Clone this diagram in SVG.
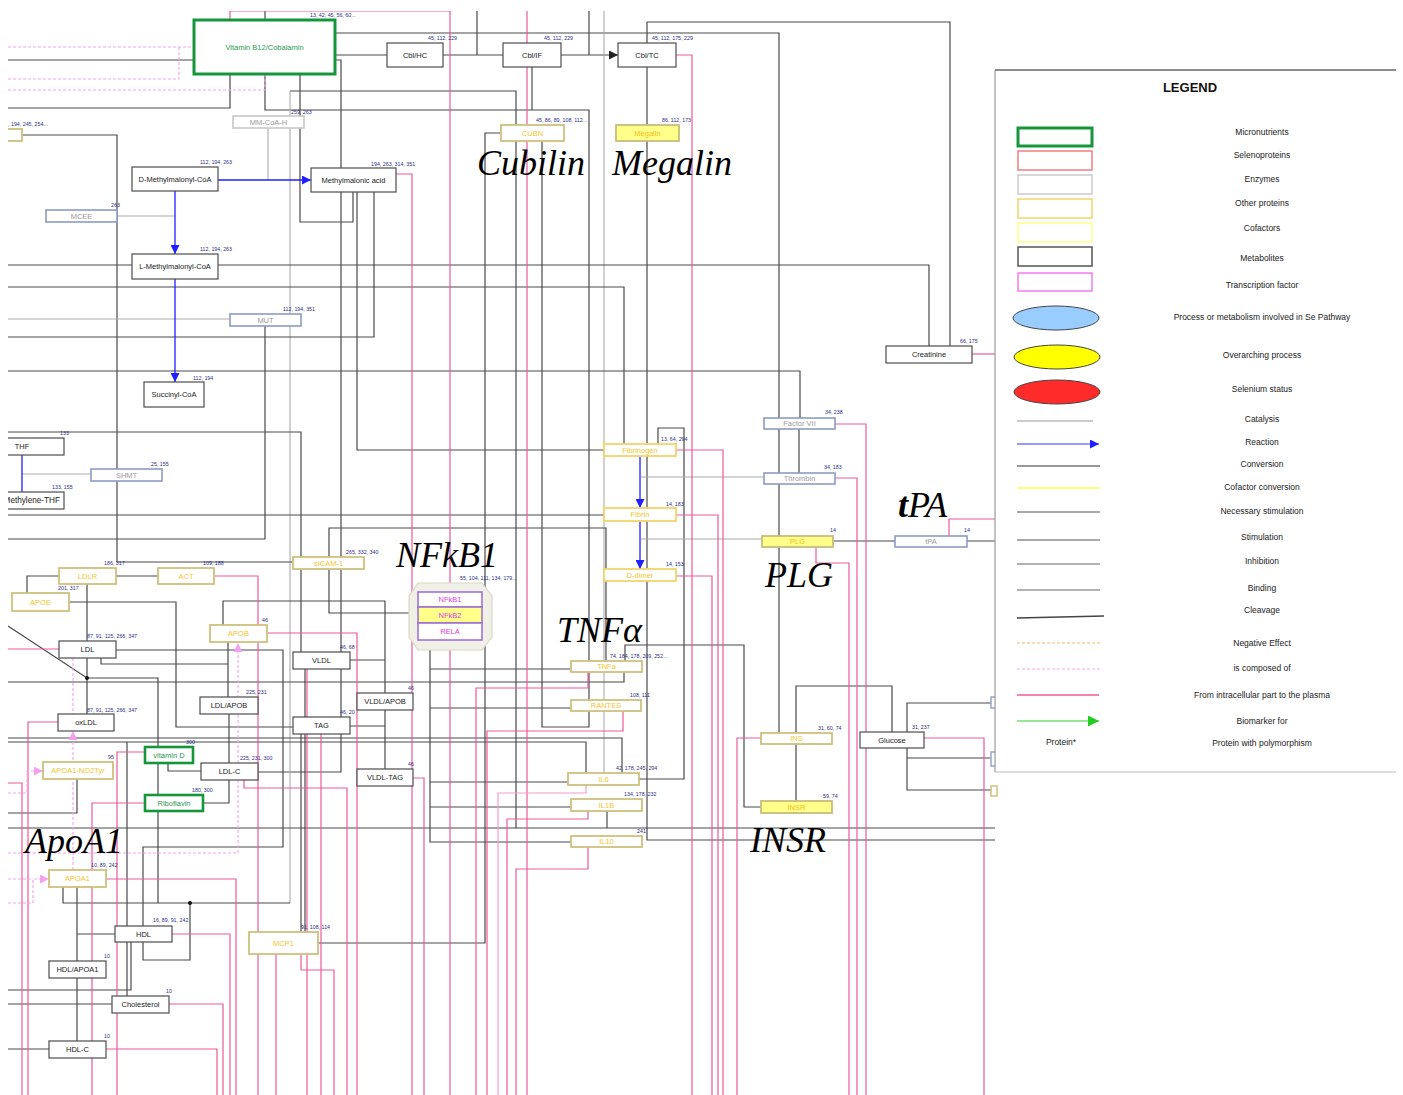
<svg xmlns="http://www.w3.org/2000/svg" width="1403" height="1095" viewBox="0 0 1403 1095">
<style>
.k{fill:none;stroke:#4a4a4a;stroke-width:1.2}
.g{fill:none;stroke:#ababab;stroke-width:1.1}
.p{fill:none;stroke:#ec5a9c;stroke-width:1.2}
.pl{fill:none;stroke:#f49cc6;stroke-width:1.2}
.pd{fill:none;stroke:#f3a2ee;stroke-width:1.1;stroke-dasharray:3 2}
.bl{fill:none;stroke:#1f1fff;stroke-width:1.3}
.t{font-family:"Liberation Sans",Arial,sans-serif;font-size:7.5px;text-anchor:middle}
.r{font-family:"Liberation Sans",Arial,sans-serif;font-size:5.3px;fill:#2e2e8a !important}
.big{font-family:"Liberation Serif","Times New Roman",serif;font-style:italic;font-size:36px;fill:#000}
.met rect{fill:#fff;stroke:#4d4d4d;stroke-width:1.2}
.met text{fill:#222}
.enz rect{fill:#fff;stroke:#8d9cc6;stroke-width:1.6}
.enz text{fill:#9a9a9a}
.oth rect{fill:#fff;stroke:#cfc07f;stroke-width:1.8}
.oth text{fill:#f5c52c}
.cof rect{fill:#ffff8a;stroke:#c9bc7e;stroke-width:1.8}
.cof text{fill:#f0c020}
.mic rect{fill:#fff;stroke:#16963a;stroke-width:3}
.mic text{fill:#2a9a50}
.tf rect{fill:#fff;stroke:#9b6bd3;stroke-width:1.5}
.tf text{fill:#e23be2}
.lg{font-family:"Liberation Sans",Arial,sans-serif;font-size:8.5px;text-anchor:middle;fill:#222}
</style>
<defs>
<clipPath id="clip"><rect x="8" y="11" width="1395" height="1084"/></clipPath>
<marker id="ab" viewBox="0 0 10 10" refX="10" refY="5" markerWidth="9" markerHeight="9" markerUnits="userSpaceOnUse" orient="auto"><path d="M0,0L10,5L0,10z" fill="#1f1fff"/></marker>
<marker id="ak" viewBox="0 0 10 10" refX="10" refY="5" markerWidth="9" markerHeight="9" markerUnits="userSpaceOnUse" orient="auto"><path d="M0,0L10,5L0,10z" fill="#222"/></marker>
<marker id="ap" viewBox="0 0 10 10" refX="10" refY="5" markerWidth="9" markerHeight="9" markerUnits="userSpaceOnUse" orient="auto"><path d="M0,0L10,5L0,10z" fill="#f3a2ee"/></marker>
<marker id="ag" viewBox="0 0 10 10" refX="10" refY="5" markerWidth="11" markerHeight="11" markerUnits="userSpaceOnUse" orient="auto"><path d="M0,0L10,5L0,10z" fill="#22cc22"/></marker>
</defs>
<rect width="1403" height="1095" fill="#fff"/>
<g clip-path="url(#clip)">
<g id="connectors">
<path class="k" d="M336,60H341V772H258"/>
<path class="k" d="M336,55H387M443,55H503"/>
<path class="k" d="M561,55H618" marker-end="url(#ak)"/>
<path class="k" d="M477,11V55M589,11V55"/>
<path class="k" d="M336,33H779V733"/>
<path class="k" d="M647,22H950V346M647,22V43M647,67V125M647,141V840H995"/>
<path class="k" d="M265,11V20M265,74V110H589V727H542V141"/>
<path class="k" d="M532,67V110"/>
<path class="k" d="M300,74V222H353V192"/>
<path class="k" d="M290,91H516V828"/>
<path class="g" d="M290,91V903"/>
<path class="k" d="M230,74V108H8M194,60H8"/>
<path class="g" d="M604,11V773"/>
<path class="k" d="M22,135H117V562H293"/>
<path class="k" d="M8,265H929V346"/>
<path class="k" d="M8,287H624V444"/>
<path class="g" d="M8,319H230"/>
<path class="k" d="M374,192V337H8"/>
<path class="k" d="M265,325V539H8"/>
<path class="k" d="M8,371H800V418"/>
<path class="k" d="M8,432H301V652"/>
<path class="k" d="M357,192V450H604"/>
<path class="k" d="M8,515H604"/>
<path class="k" d="M501,133H485V943H318"/>
<path class="k" d="M409,613H329V528H606V661"/>
<path class="k" d="M223,625V601H385V693M350,660H385M350,726H385"/>
<path class="k" d="M59,576H27V593M116,576H158"/>
<path class="k" d="M87,584V641M87,658V714"/>
<path class="k" d="M8,626L87,678H158V747M158,763V795M158,811V903"/>
<path class="k" d="M8,682H624V672M625,661V645H744V807H761"/>
<path class="k" d="M69,602H176V727H293"/>
<path class="k" d="M116,650H283V847H143V960H190V903"/>
<path class="k" d="M101,658V664H228M228,642V697"/>
<path class="k" d="M229,714V763M168,763V771H201M203,803H229V780"/>
<path class="k" d="M8,738H622V773M8,742H586V773"/>
<path class="k" d="M430,650V842H571M430,669H571M430,708H571M430,782H568M430,807H571"/>
<path class="k" d="M658,444V428H684V779H639"/>
<path class="k" d="M385,710V769"/>
<path class="k" d="M8,828H995M607,811V828"/>
<path class="k" d="M799,429V473"/>
<path class="k" d="M833,541H895M967,541H995"/>
<path class="k" d="M796,744V801M796,733V686H892V732"/>
<path class="k" d="M907,732V703H995M907,748V790H995M907,758H995"/>
<path class="k" d="M77,779V813H8"/>
<path class="k" d="M77,887V961M77,978V1041M77,934H115"/>
<path class="k" d="M63,887V903H290"/>
<path class="k" d="M127,742V926M127,942V996M131,942V990H8"/>
<path class="k" d="M112,1004H8M49,1049H8"/>
<path class="k" d="M301,734V932M305,734V932M305,669V717"/>
<circle cx="87" cy="678" r="2" fill="#111"/>
<circle cx="190" cy="903" r="2" fill="#111"/>
<path class="g" d="M268,128V180M117,216H175M22,474H91M641,477H764M641,539H762"/>
<path class="bl" d="M218,180H311" marker-end="url(#ab)"/>
<path class="bl" d="M175,191V254" marker-end="url(#ab)"/>
<path class="bl" d="M175,279V382" marker-end="url(#ab)"/>
<path class="bl" d="M640,456V508" marker-end="url(#ab)"/>
<path class="bl" d="M640,521V569" marker-end="url(#ab)"/>
<path class="bl" d="M22,455V492"/>
<path class="p" d="M230,20V11H450V1095"/>
<path class="p" d="M527,11V1095"/>
<path class="p" d="M676,55H692V1095"/>
<path class="p" d="M396,174H412V1095"/>
<path class="p" d="M214,576H258V1095"/>
<path class="p" d="M267,633H357V1095"/>
<path class="p" d="M8,649H59"/>
<path class="p" d="M58,722H28V1095"/>
<path class="p" d="M307,669V1095"/>
<path class="p" d="M321,734V1095"/>
<path class="p" d="M676,450H723V1095"/>
<path class="p" d="M676,515H718V1095"/>
<path class="p" d="M676,576H712V1095"/>
<path class="p" d="M588,672V688H476V1095"/>
<path class="p" d="M623,711V731H487V1095"/>
<path class="pl" d="M586,785V793H498V1095"/>
<path class="p" d="M588,811V819H507V1095"/>
<path class="p" d="M588,847V869H516V1095"/>
<path class="p" d="M413,778H424V1095"/>
<path class="p" d="M835,424H866V1095"/>
<path class="p" d="M835,478H857V1095"/>
<path class="p" d="M816,547V563H849V1095"/>
<path class="p" d="M949,536V519H995"/>
<path class="p" d="M761,738H737V1095"/>
<path class="p" d="M924,738H984V1095"/>
<path class="p" d="M972,354H995"/>
<path class="p" d="M145,752H117V1095"/>
<path class="p" d="M145,803H92V1095"/>
<path class="p" d="M244,780V788H347V1095"/>
<path class="p" d="M8,783H22V1095"/>
<path class="p" d="M106,879H236V1095"/>
<path class="p" d="M172,934H230V1095"/>
<path class="p" d="M169,1004H223V1095"/>
<path class="p" d="M106,1049H217V1095"/>
<path class="p" d="M276,954V1095"/>
<path class="p" d="M301,954V970H334V1095"/>
<path class="pd" d="M8,47H194M8,79H179V47M8,90H265V74"/>
<path class="pd" d="M73,658V714"/>
<path class="pd" d="M73,870V731" marker-end="url(#ap)"/>
<path class="pd" d="M8,853H238V643" marker-end="url(#ap)"/>
<path class="pd" d="M8,793H27V771H43" marker-end="url(#ap)"/>
<path class="pd" d="M8,903H33V879H49" marker-end="url(#ap)"/>
<path class="pd" d="M8,879H33"/>
</g>

<g id="n-b12" class="mic"><rect x="194" y="20" width="141" height="54"/><text class="t" x="264.5" y="49.7">Vitamin B12/Cobalamin</text><text class="r" x="310" y="17">13, 42, 45, 56, 60...</text></g>
<g id="n-cblhc" class="met"><rect x="387" y="43" width="56" height="24"/><text class="t" x="415" y="57.7">Cbl/HC</text><text class="r" x="428" y="40">45, 112, 229</text></g>
<g id="n-cblif" class="met"><rect x="503" y="43" width="58" height="24"/><text class="t" x="532" y="57.7">Cbl/IF</text><text class="r" x="544" y="40">45, 112, 229</text></g>
<g id="n-cbltc" class="met"><rect x="618" y="43" width="58" height="24"/><text class="t" x="647" y="57.7">Cbl/TC</text><text class="r" x="652" y="40">45, 112, 175, 229</text></g>
<g id="n-cubn" class="oth"><rect x="501" y="125" width="63" height="16"/><text class="t" x="532.5" y="135.7">CUBN</text><text class="r" x="536" y="122">45, 86, 89, 108, 112...</text></g>
<g id="n-megalin" class="cof"><rect x="616" y="125" width="63" height="16"/><text class="t" x="647.5" y="135.7">Megalin</text><text class="r" x="662" y="122">86, 112, 173</text></g>
<g id="n-mmcoah" class="enz"><rect x="233" y="116" width="71" height="12" style="stroke:#c8c8c8"/><text class="t" x="268.5" y="124.7">MM-CoA-H</text><text class="r" x="291" y="114">259, 263</text></g>
<g id="n-dmm" class="met"><rect x="132" y="167" width="86" height="24"/><text class="t" x="175" y="181.7">D-Methylmalonyl-CoA</text><text class="r" x="200" y="164">112, 194, 263</text></g>
<g id="n-mma" class="met"><rect x="311" y="168" width="85" height="24"/><text class="t" x="353.5" y="182.7">Methylmalonic acid</text><text class="r" x="371" y="166">194, 263, 314, 351</text></g>
<g id="n-mcee" class="enz"><rect x="46" y="210" width="71" height="12"/><text class="t" x="81.5" y="218.7">MCEE</text><text class="r" x="111" y="207">263</text></g>
<g id="n-lmm" class="met"><rect x="132" y="254" width="86" height="25"/><text class="t" x="175" y="269.2">L-Methylmalonyl-CoA</text><text class="r" x="200" y="251">112, 194, 263</text></g>
<g id="n-mut" class="enz"><rect x="230" y="314" width="71" height="12"/><text class="t" x="265.5" y="322.7">MUT</text><text class="r" x="283" y="311">112, 194, 351</text></g>
<g id="n-succoa" class="met"><rect x="144" y="382" width="60" height="25"/><text class="t" x="174" y="397.2">Succinyl-CoA</text><text class="r" x="193" y="380">112, 194</text></g>
<g id="n-thf" class="met"><rect x="-20" y="438" width="84" height="17"/><text class="t" x="22" y="449.2">THF</text><text class="r" x="60" y="435">133</text></g>
<g id="n-shmt" class="enz"><rect x="91" y="469" width="71" height="12"/><text class="t" x="126.5" y="477.7">SHMT</text><text class="r" x="151" y="466">25, 155</text></g>
<g id="n-mthf" class="met"><rect x="-20" y="492" width="84" height="17"/><text class="t" x="60" y="503.4" style="text-anchor:end;font-size:8.2px">Methylene-THF</text><text class="r" x="52" y="489">133, 155</text></g>
<g id="n-left" class="oth"><rect x="-20" y="129" width="42" height="12"/><text class="r" x="8" y="126">, 194, 245, 254...</text></g>
<g id="n-sicam" class="oth"><rect x="293" y="557" width="71" height="12"/><text class="t" x="328.5" y="565.7">sICAM-1</text><text class="r" x="346" y="554">265, 332, 340</text></g>
<g id="n-ldlr" class="oth"><rect x="59" y="568" width="57" height="16"/><text class="t" x="87.5" y="578.7">LDLR</text><text class="r" x="104" y="565">186, 317</text></g>
<g id="n-act" class="oth"><rect x="158" y="568" width="56" height="16"/><text class="t" x="186" y="578.7">ACT</text><text class="r" x="203" y="565">109, 188</text></g>
<g id="n-apoe" class="oth"><rect x="12" y="593" width="57" height="18"/><text class="t" x="40.5" y="604.7">APOE</text><text class="r" x="58" y="590">201, 317</text></g>
<g id="n-apob" class="oth"><rect x="210" y="625" width="57" height="17"/><text class="t" x="238.5" y="636.2">APOB</text><text class="r" x="262" y="622">46</text></g>
<g id="n-ldl" class="met"><rect x="59" y="641" width="57" height="17"/><text class="t" x="87.5" y="652.2">LDL</text><text class="r" x="87" y="638">87, 91, 125, 266, 347</text></g>
<g id="n-ldlapob" class="met"><rect x="200" y="697" width="58" height="17"/><text class="t" x="229" y="708.2">LDL/APOB</text><text class="r" x="246" y="694">225, 231</text></g>
<g id="n-oxldl" class="met"><rect x="58" y="714" width="56" height="17"/><text class="t" x="86" y="725.2">oxLDL</text><text class="r" x="87" y="712">87, 91, 125, 266, 347</text></g>
<g id="n-vldl" class="met"><rect x="293" y="652" width="57" height="17"/><text class="t" x="321.5" y="663.2">VLDL</text><text class="r" x="340" y="649">46, 68</text></g>
<g id="n-tag" class="met"><rect x="293" y="717" width="57" height="17"/><text class="t" x="321.5" y="728.2">TAG</text><text class="r" x="340" y="714">46, 20</text></g>
<g id="n-vldlapob" class="met"><rect x="357" y="693" width="56" height="17"/><text class="t" x="385" y="704.2">VLDL/APOB</text><text class="r" x="408" y="690">46</text></g>
<g id="n-vldltag" class="met"><rect x="357" y="769" width="56" height="17"/><text class="t" x="385" y="780.2">VLDL-TAG</text><text class="r" x="408" y="766">46</text></g>
<g id="n-nfkb" class="tf"><polygon points="418,583 482,583 492,596 492,637 482,650 418,650 409,637 409,596" fill="#f0f0e6" stroke="#d8d8cc" stroke-width="1.2"/><rect x="418" y="592" width="64" height="15"/><text class="t" x="450" y="602.2">NFkB1</text><rect x="418" y="607" width="64" height="16" style="fill:#ffff8a"/><text class="t" x="450" y="617.7">NFkB2</text><rect x="418" y="623" width="64" height="17"/><text class="t" x="450" y="634.2">RELA</text><text class="r" x="460" y="580">55, 104, 111, 134, 179...</text></g>
<g id="n-fibrinogen" class="oth"><rect x="604" y="444" width="72" height="12" style="stroke:#f2d36b"/><text class="t" x="640" y="452.7">Fibrinogen</text><text class="r" x="661" y="441">13, 64, 294</text></g>
<g id="n-fibrin" class="oth"><rect x="604" y="508" width="72" height="13" style="stroke:#f2d36b"/><text class="t" x="640" y="517.2">Fibrin</text><text class="r" x="666" y="506">14, 183</text></g>
<g id="n-ddimer" class="oth"><rect x="604" y="569" width="72" height="12" style="stroke:#f2d36b"/><text class="t" x="640" y="577.7">D-dimer</text><text class="r" x="666" y="566">14, 153</text></g>
<g id="n-tnfa" class="oth"><rect x="571" y="661" width="71" height="11"/><text class="t" x="606.5" y="669.2">TNFa</text><text class="r" x="610" y="658">74, 184, 178, 209, 252...</text></g>
<g id="n-rantes" class="oth"><rect x="571" y="700" width="70" height="11"/><text class="t" x="606" y="708.2">RANTES</text><text class="r" x="630" y="697">108, 111</text></g>
<g id="n-il6" class="oth"><rect x="568" y="773" width="71" height="12"/><text class="t" x="603.5" y="781.7">IL6</text><text class="r" x="616" y="770">42, 178, 245, 294</text></g>
<g id="n-il1b" class="oth"><rect x="571" y="799" width="71" height="12"/><text class="t" x="606.5" y="807.7">IL1B</text><text class="r" x="624" y="796">134, 178, 232</text></g>
<g id="n-il10" class="oth"><rect x="571" y="836" width="71" height="11"/><text class="t" x="606.5" y="844.2">IL10</text><text class="r" x="637" y="833">241</text></g>
<g id="n-fvii" class="enz"><rect x="764" y="418" width="71" height="11"/><text class="t" x="799.5" y="426.2">Factor VII</text><text class="r" x="825" y="414">34, 238</text></g>
<g id="n-thrombin" class="enz"><rect x="764" y="473" width="71" height="11"/><text class="t" x="799.5" y="481.2">Thrombin</text><text class="r" x="824" y="469">34, 183</text></g>
<g id="n-plg" class="cof"><rect x="762" y="536" width="71" height="11"/><text class="t" x="797.5" y="544.2">PLG</text><text class="r" x="830" y="532">14</text></g>
<g id="n-tpa" class="enz"><rect x="895" y="536" width="72" height="11"/><text class="t" x="931" y="544.2">tPA</text><text class="r" x="964" y="532">14</text></g>
<g id="n-ins" class="oth"><rect x="761" y="733" width="71" height="11"/><text class="t" x="796.5" y="741.2">INS</text><text class="r" x="818" y="730">31, 60, 74</text></g>
<g id="n-insr" class="cof"><rect x="761" y="801" width="71" height="12"/><text class="t" x="796.5" y="809.7">INSR</text><text class="r" x="823" y="798">59, 74</text></g>
<g id="n-glucose" class="met"><rect x="860" y="732" width="64" height="16"/><text class="t" x="892" y="742.7">Glucose</text><text class="r" x="912" y="729">31, 237</text></g>
<g id="n-creatinine" class="met"><rect x="886" y="346" width="86" height="17"/><text class="t" x="929" y="357.2">Creatinine</text><text class="r" x="960" y="343">66, 175</text></g>
<g id="n-vitd" class="mic"><rect x="145" y="747" width="48" height="16" style="stroke-width:2.6"/><text class="t" x="169" y="757.7">vitamin D</text><text class="r" x="186" y="744">300</text></g>
<g id="n-riboflavin" class="mic"><rect x="145" y="795" width="58" height="16" style="stroke-width:2.6"/><text class="t" x="174" y="805.7">Riboflavin</text><text class="r" x="192" y="792">180, 300</text></g>
<g id="n-ldlc" class="met"><rect x="201" y="763" width="57" height="17"/><text class="t" x="229.5" y="774.2">LDL-C</text><text class="r" x="240" y="760">225, 231, 300</text></g>
<g id="n-apoa1no2" class="oth"><rect x="43" y="762" width="70" height="17"/><text class="t" x="78" y="773.2">APOA1-NO2Tyr</text><text class="r" x="108" y="759">95</text></g>
<g id="n-apoa1" class="oth"><rect x="49" y="870" width="57" height="17"/><text class="t" x="77.5" y="881.2">APOA1</text><text class="r" x="91" y="867">10, 89, 242</text></g>
<g id="n-hdl" class="met"><rect x="115" y="926" width="57" height="16"/><text class="t" x="143.5" y="936.7">HDL</text><text class="r" x="153" y="922">16, 89, 91, 242</text></g>
<g id="n-hdlapoa1" class="met"><rect x="49" y="961" width="57" height="17"/><text class="t" x="77.5" y="972.2">HDL/APOA1</text><text class="r" x="104" y="958">10</text></g>
<g id="n-cholesterol" class="met"><rect x="112" y="996" width="57" height="17"/><text class="t" x="140.5" y="1007.2">Cholesterol</text><text class="r" x="166" y="993">10</text></g>
<g id="n-hdlc" class="met"><rect x="49" y="1041" width="57" height="17"/><text class="t" x="77.5" y="1052.2">HDL-C</text><text class="r" x="104" y="1038">10</text></g>
<g id="n-mcp1" class="oth"><rect x="249" y="932" width="69" height="22"/><text class="t" x="283.5" y="945.7">MCP1</text><text class="r" x="301" y="929">91, 108, 114</text></g>
<g id="n-right-partials"><rect x="991" y="697" width="6" height="11" fill="#fff" stroke="#9aa6c8" stroke-width="1.5"/><rect x="991" y="752" width="6" height="14" fill="#fff" stroke="#9aa6c8" stroke-width="1.5"/><rect x="991" y="786" width="6" height="10" fill="#fff" stroke="#cfc07f" stroke-width="1.5"/></g>

<g id="labels">
<text class="big" x="477" y="175">Cubilin</text>
<text class="big" x="612" y="175">Megalin</text>
<text class="big" x="396" y="567">NFkB1</text>
<text class="big" x="557" y="642">TNFα</text>
<text class="big" x="898" y="517"><tspan font-weight="bold">t</tspan>PA</text>
<text class="big" x="765" y="587">PLG</text>
<text class="big" x="750" y="852">INSR</text>
<text class="big" x="25" y="853">ApoA1</text>
</g>
</g>

<g id="legend">
<rect x="995" y="70" width="401" height="702" fill="#fff"/>
<path d="M995,70H1396" stroke="#666" stroke-width="1.3"/>
<path d="M995,70V772" stroke="#888" stroke-width="1"/>
<path d="M995,772H1396" stroke="#bbb" stroke-width="1.2"/>
<text x="1190" y="92" font-family="Liberation Sans,Arial,sans-serif" font-size="13" font-weight="bold" text-anchor="middle" fill="#111">LEGEND</text>
<rect x="1018" y="128" width="74" height="18" fill="#fff" stroke="#16963a" stroke-width="3"/>
<rect x="1018" y="151" width="74" height="19" fill="#fff" stroke="#f08080" stroke-width="1.5"/>
<rect x="1018" y="175" width="74" height="19" fill="#fff" stroke="#cccccc" stroke-width="1.5"/>
<rect x="1018" y="199" width="74" height="19" fill="#fff" stroke="#f5d36b" stroke-width="1.5"/>
<rect x="1018" y="223" width="74" height="19" fill="#fff" stroke="#ffff88" stroke-width="1.5"/>
<rect x="1018" y="247" width="74" height="19" fill="#fff" stroke="#555" stroke-width="1.5"/>
<rect x="1018" y="273" width="74" height="18" fill="#fff" stroke="#f57cf0" stroke-width="1.5"/>
<ellipse cx="1056" cy="318" rx="43" ry="12" fill="#99ccff" stroke="#444" stroke-width="1"/>
<ellipse cx="1057" cy="357" rx="43" ry="12" fill="#ffff00" stroke="#444" stroke-width="1"/>
<ellipse cx="1057" cy="392" rx="43" ry="12" fill="#ff2a2a" stroke="#444" stroke-width="1"/>
<path d="M1017,421H1093" stroke="#bbb" stroke-width="1.5"/>
<path d="M1017,444H1099" stroke="#3333ff" stroke-width="1.2" marker-end="url(#ab)"/>
<path d="M1017,466H1100" stroke="#333" stroke-width="1.2"/>
<path d="M1017,488H1100" stroke="#ffff44" stroke-width="1.5"/>
<path d="M1017,512H1100" stroke="#555" stroke-width="1.2"/>
<path d="M1017,540H1100" stroke="#555" stroke-width="1.2"/>
<path d="M1017,564H1100" stroke="#666" stroke-width="1.2"/>
<path d="M1017,590H1100" stroke="#666" stroke-width="1.2"/>
<path d="M1017,618L1104,616" stroke="#444" stroke-width="1.3"/>
<path d="M1017,643H1100" stroke="#f5b770" stroke-width="1.2" stroke-dasharray="3 2"/>
<path d="M1017,669H1100" stroke="#f6a6f2" stroke-width="1.2" stroke-dasharray="3 2"/>
<path d="M1017,695H1099" stroke="#ec5a9c" stroke-width="1.5"/>
<path d="M1017,721H1099" stroke="#33cc33" stroke-width="1.2" marker-end="url(#ag)"/>
<text class="lg" x="1262" y="135">Micronutrients</text>
<text class="lg" x="1262" y="158">Selenoproteins</text>
<text class="lg" x="1262" y="182">Enzymes</text>
<text class="lg" x="1262" y="206">Other proteins</text>
<text class="lg" x="1262" y="231">Cofactors</text>
<text class="lg" x="1262" y="261">Metabolites</text>
<text class="lg" x="1262" y="288">Transcription factor</text>
<text class="lg" x="1262" y="320">Process or metabolism involved in Se Pathway</text>
<text class="lg" x="1262" y="358">Overarching process</text>
<text class="lg" x="1262" y="392">Selenium status</text>
<text class="lg" x="1262" y="422">Catalysis</text>
<text class="lg" x="1262" y="445">Reaction</text>
<text class="lg" x="1262" y="467">Conversion</text>
<text class="lg" x="1262" y="490">Cofactor conversion</text>
<text class="lg" x="1262" y="514">Necessary stimulation</text>
<text class="lg" x="1262" y="540">Stimulation</text>
<text class="lg" x="1262" y="564">Inhibition</text>
<text class="lg" x="1262" y="591">Binding</text>
<text class="lg" x="1262" y="613">Cleavage</text>
<text class="lg" x="1262" y="646">Negative Effect</text>
<text class="lg" x="1262" y="671">is composed of</text>
<text class="lg" x="1262" y="698">From intracellular part to the plasma</text>
<text class="lg" x="1262" y="724">Biomarker for</text>
<text class="lg" x="1061" y="745">Protein*</text>
<text class="lg" x="1262" y="746">Protein with polymorphism</text>
</g>
</svg>
